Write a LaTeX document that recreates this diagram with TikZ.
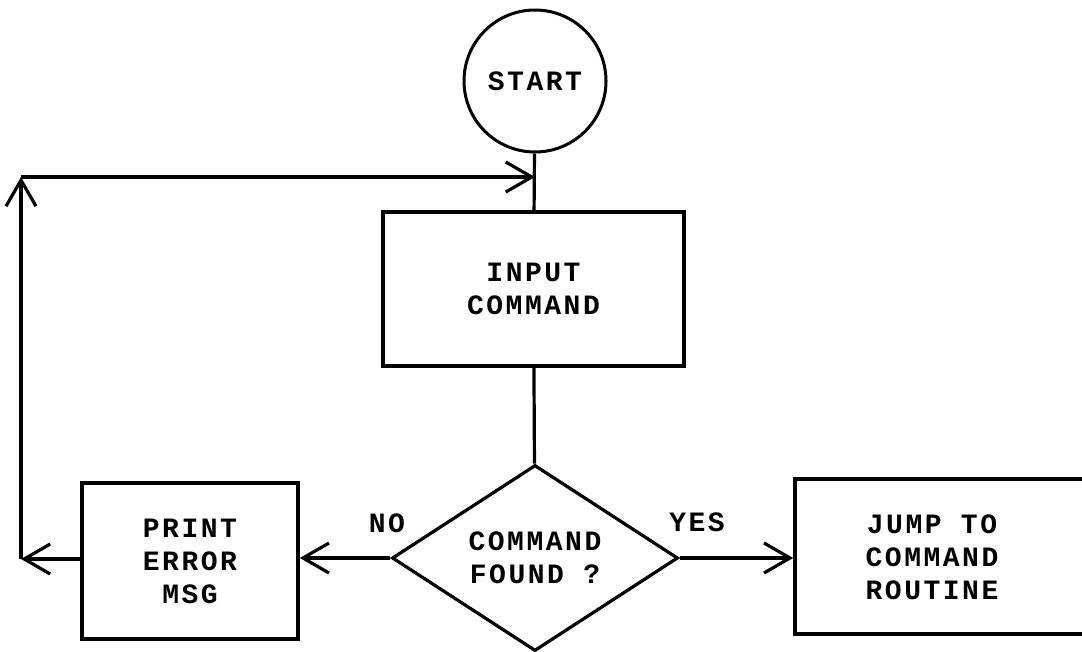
\documentclass[tikz,border=0pt]{standalone}
\usepackage{fontspec}
\usetikzlibrary{shapes.geometric,arrows.meta}
\newfontfamily\typewriter[LetterSpace=9]{Liberation Mono}

\begin{document}
\begin{tikzpicture}[x=1pt,y=-1pt,
  every node/.style={font=\typewriter\bfseries\fontsize{28}{33}\selectfont, align=center},
  block/.style={draw, line width=3.6pt, rectangle, inner sep=0pt},
  term/.style={draw, line width=3pt, circle, inner sep=0pt, minimum size=142pt},
  decision/.style={draw, line width=3.2pt, diamond, inner sep=0pt, aspect=1.54,
                   minimum width=286pt, minimum height=186pt},
  flow/.style={line width=3.2pt, -{Straight Barb[length=26pt,width=30pt,line width=3.2pt]}},
  link/.style={line width=3.2pt}]
  \useasboundingbox (0,0) rectangle (1082,651);

  % nodes
  \node[term] (start) at (535,81) {START};
  \node[block, minimum width=301pt, minimum height=154pt] (input) at (533.5,289) {INPUT\\COMMAND};
  \node[decision] (found) at (535,558) {COMMAND\\FOUND ?};
  \node[block, minimum width=216pt, minimum height=156pt] (error) at (190,561) {PRINT\\ERROR\\MSG};
  \node[block, minimum width=320pt, minimum height=155pt] (jump) at (955,556.5) {};
  \node (jumptext) at (932,557) {JUMP TO\\COMMAND\\ROUTINE};

  % branch labels
  \node (no) at (387,523) {NO};
  \node (yes) at (697,522) {YES};

  % loop-back route
  \coordinate (merge) at (535,177);
  \coordinate (looptop) at (21,177);
  \coordinate (loopbot) at (21,559);

  % connectors
  \draw[link] (start) -- (input);
  \draw[link] (input) -- (found);
  \draw[flow] (found.west) -- (found.west -| error.east);
  \draw[flow] (found.east) -- (found.east -| jump.west);
  \draw[flow] (error.west |- loopbot) -- (loopbot);
  \draw[flow] (loopbot) -- (looptop);
  \draw[flow] (looptop) -- (merge);
\end{tikzpicture}
\end{document}
